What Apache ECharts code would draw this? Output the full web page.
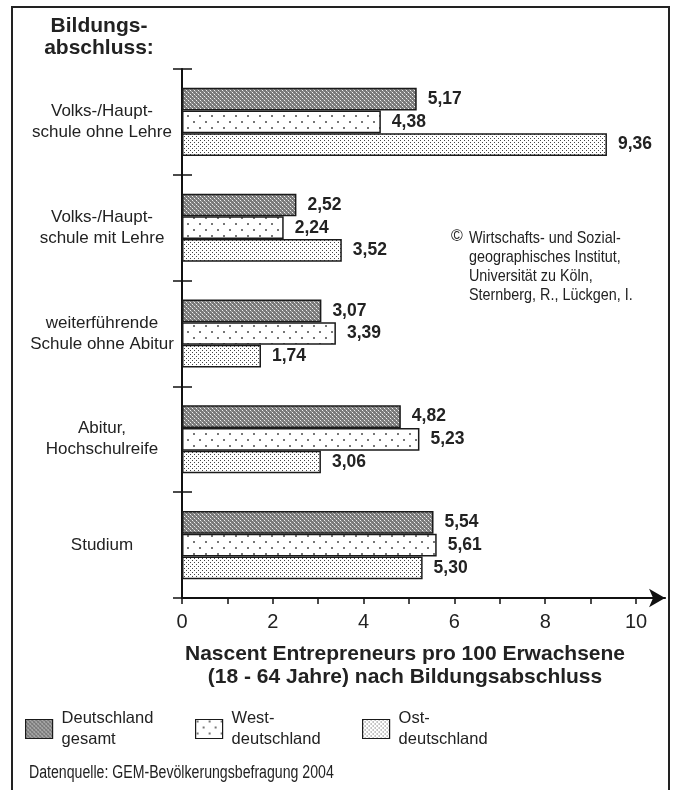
<!DOCTYPE html>
<html>
<head>
<meta charset="utf-8">
<script src="https://cdn.jsdelivr.net/npm/echarts@6/dist/echarts.min.js"></script>
<style>
html,body{margin:0;padding:0;background:#fff;}
#c{width:674px;height:790px;}
</style>
</head>
<body>
<div id="c"></div>
<script>
// ---- data ----
const categories = ['Volks-/Haupt-\nschule ohne Lehre', 'Volks-/Haupt-\nschule mit Lehre', 'weiterführende\nSchule ohne Abitur', 'Abitur,\nHochschulreife', 'Studium'];
const seriesNames = ['Deutschland gesamt', 'Westdeutschland', 'Ostdeutschland'];
const legendLabels = ['Deutschland\ngesamt', 'West-\ndeutschland', 'Ost-\ndeutschland'];
const gesamt = [5.17, 2.52, 3.07, 4.82, 5.54];
const west = [4.38, 2.24, 3.39, 5.23, 5.61];
const ost = [9.36, 3.52, 1.74, 3.06, 5.30];
const xTickValues = [0, 1, 2, 3, 4, 5, 6, 7, 8, 9, 10];
const xLabelValues = [0, 2, 4, 6, 8, 10];
const yAxisTitle = 'Bildungs-\nabschluss:';
const xAxisTitle = 'Nascent Entrepreneurs pro 100 Erwachsene\n(18 - 64 Jahre) nach Bildungsabschluss';
const copyrightLines = 'Wirtschafts- und Sozial-\ngeographisches Institut,\nUniversität zu Köln,\nSternberg, R., Lückgen, I.';
const sourceText = 'Datenquelle: GEM-Bevölkerungsbefragung 2004';

// ---- patterns ----
function makePattern(w, h, bg, dots) {
  const cv = document.createElement('canvas');
  cv.width = w; cv.height = h;
  const ctx = cv.getContext('2d');
  ctx.fillStyle = bg; ctx.fillRect(0, 0, w, h);
  dots.forEach(d => { ctx.fillStyle = d[2]; ctx.fillRect(d[0], d[1], d[3], d[3]); });
  return { image: cv, repeat: 'repeat' };
}
const patGesamt = makePattern(4, 4, '#7a7a7a', [[0, 0, '#f2f2f2', 1], [2, 2, '#f2f2f2', 1], [1, 1, '#a8a8a8', 1], [3, 3, '#a8a8a8', 1]]);
const patWest = makePattern(12, 12, '#ffffff', [[1, 1, '#777', 2], [7, 7, '#777', 2]]);
const patOst = makePattern(4, 4, '#ffffff', [[0, 0, '#444', 1], [2, 2, '#444', 1]]);
const patterns = [patGesamt, patWest, patOst];
const dataSets = [gesamt, west, ost];

const FONT = "'Liberation Sans', Arial, Helvetica, sans-serif";
const TXT = '#222';

const chart = echarts.init(document.getElementById('c'), null, { renderer: 'canvas' });

const series = seriesNames.map((n, i) => ({
  name: n,
  type: 'bar',
  data: dataSets[i],
  barWidth: 22.7,
  barGap: '0%',
  itemStyle: { color: patterns[i], borderColor: '#1a1a1a', borderWidth: 1.5 },
  label: {
    show: true, position: 'right', distance: 11,
    fontFamily: FONT, fontWeight: 'bold', fontSize: 17.5, color: TXT,
    formatter: p => p.value.toFixed(2).replace('.', ',')
  },
  emphasis: { disabled: true },
  animation: false
}));

const legendX = [25, 195, 362];
const legends = seriesNames.map((n, i) => ({
  left: legendX[i], top: 708, padding: 0,
  orient: 'vertical',
  data: [{ name: n, icon: 'rect' }],
  itemWidth: 27, itemHeight: 19, itemGap: 0,
  selectedMode: false,
  formatter: () => legendLabels[i],
  textStyle: { fontFamily: FONT, fontSize: 16.5, lineHeight: 21, color: TXT, padding: [0, 0, 0, 4] },
  itemStyle: { borderColor: '#1a1a1a', borderWidth: 1.2 }
}));

const XMAX = 10.64;
const option = {
  backgroundColor: '#fff',
  animation: false,
  grid: { left: 182, top: 69, bottom: 192, width: XMAX * 45.4, containLabel: false },
  legend: legends,
  xAxis: {
    type: 'value', min: 0, max: XMAX, interval: 1,
    axisLine: { show: true, lineStyle: { color: '#111', width: 2 }, symbol: ['none', 'arrow'], symbolSize: [14, 16], symbolOffset: [0, 0] },
    axisTick: { show: true, length: 6, lineStyle: { color: '#111', width: 1.5 }, customValues: xTickValues },
    axisLabel: { show: true, margin: 14, fontFamily: FONT, fontSize: 20, color: TXT, customValues: xLabelValues, formatter: v => String(v) },
    splitLine: { show: false }
  },
  yAxis: [{
    type: 'category', data: categories, inverse: true,
    axisLine: { show: true, lineStyle: { color: '#111', width: 2 } },
    axisTick: { show: true, length: 9, alignWithLabel: false, lineStyle: { color: '#111', width: 1.5 } },
    axisLabel: { show: true, margin: 80, align: 'center', fontFamily: FONT, fontSize: 17, lineHeight: 21, color: TXT }
  }, {
    type: 'category', data: categories, inverse: true, position: 'left',
    axisLine: { show: false },
    axisTick: { show: true, inside: true, length: 10, alignWithLabel: false, lineStyle: { color: '#111', width: 1.5 } },
    axisLabel: { show: false }
  }],
  series: series,
  graphic: [
    { type: 'polyline', shape: { points: [[12, 790], [12, 7], [669, 7], [669, 790]] }, style: { stroke: '#222', lineWidth: 2, fill: null }, silent: true },
    { type: 'text', x: 99, y: 15, style: { text: yAxisTitle, font: "bold 21px " + FONT, fill: TXT, align: 'center', verticalAlign: 'top', lineHeight: 22 } },
    { type: 'text', x: 405, y: 643, style: { text: xAxisTitle, font: "bold 21px " + FONT, fill: TXT, align: 'center', verticalAlign: 'top', lineHeight: 23 } },
    { type: 'text', x: 451, y: 229, style: { text: '©', font: "16px " + FONT, fill: TXT, align: 'left', verticalAlign: 'top' } },
    { type: 'text', x: 469, y: 229, scaleX: 0.845, style: { text: copyrightLines, font: "17px " + FONT, fill: TXT, align: 'left', verticalAlign: 'top', lineHeight: 19 } },
    { type: 'text', x: 29, y: 764, scaleX: 0.785, style: { text: sourceText, font: "18px " + FONT, fill: TXT, align: 'left', verticalAlign: 'top' } }
  ]
};
chart.setOption(option);
</script>
</body>
</html>
